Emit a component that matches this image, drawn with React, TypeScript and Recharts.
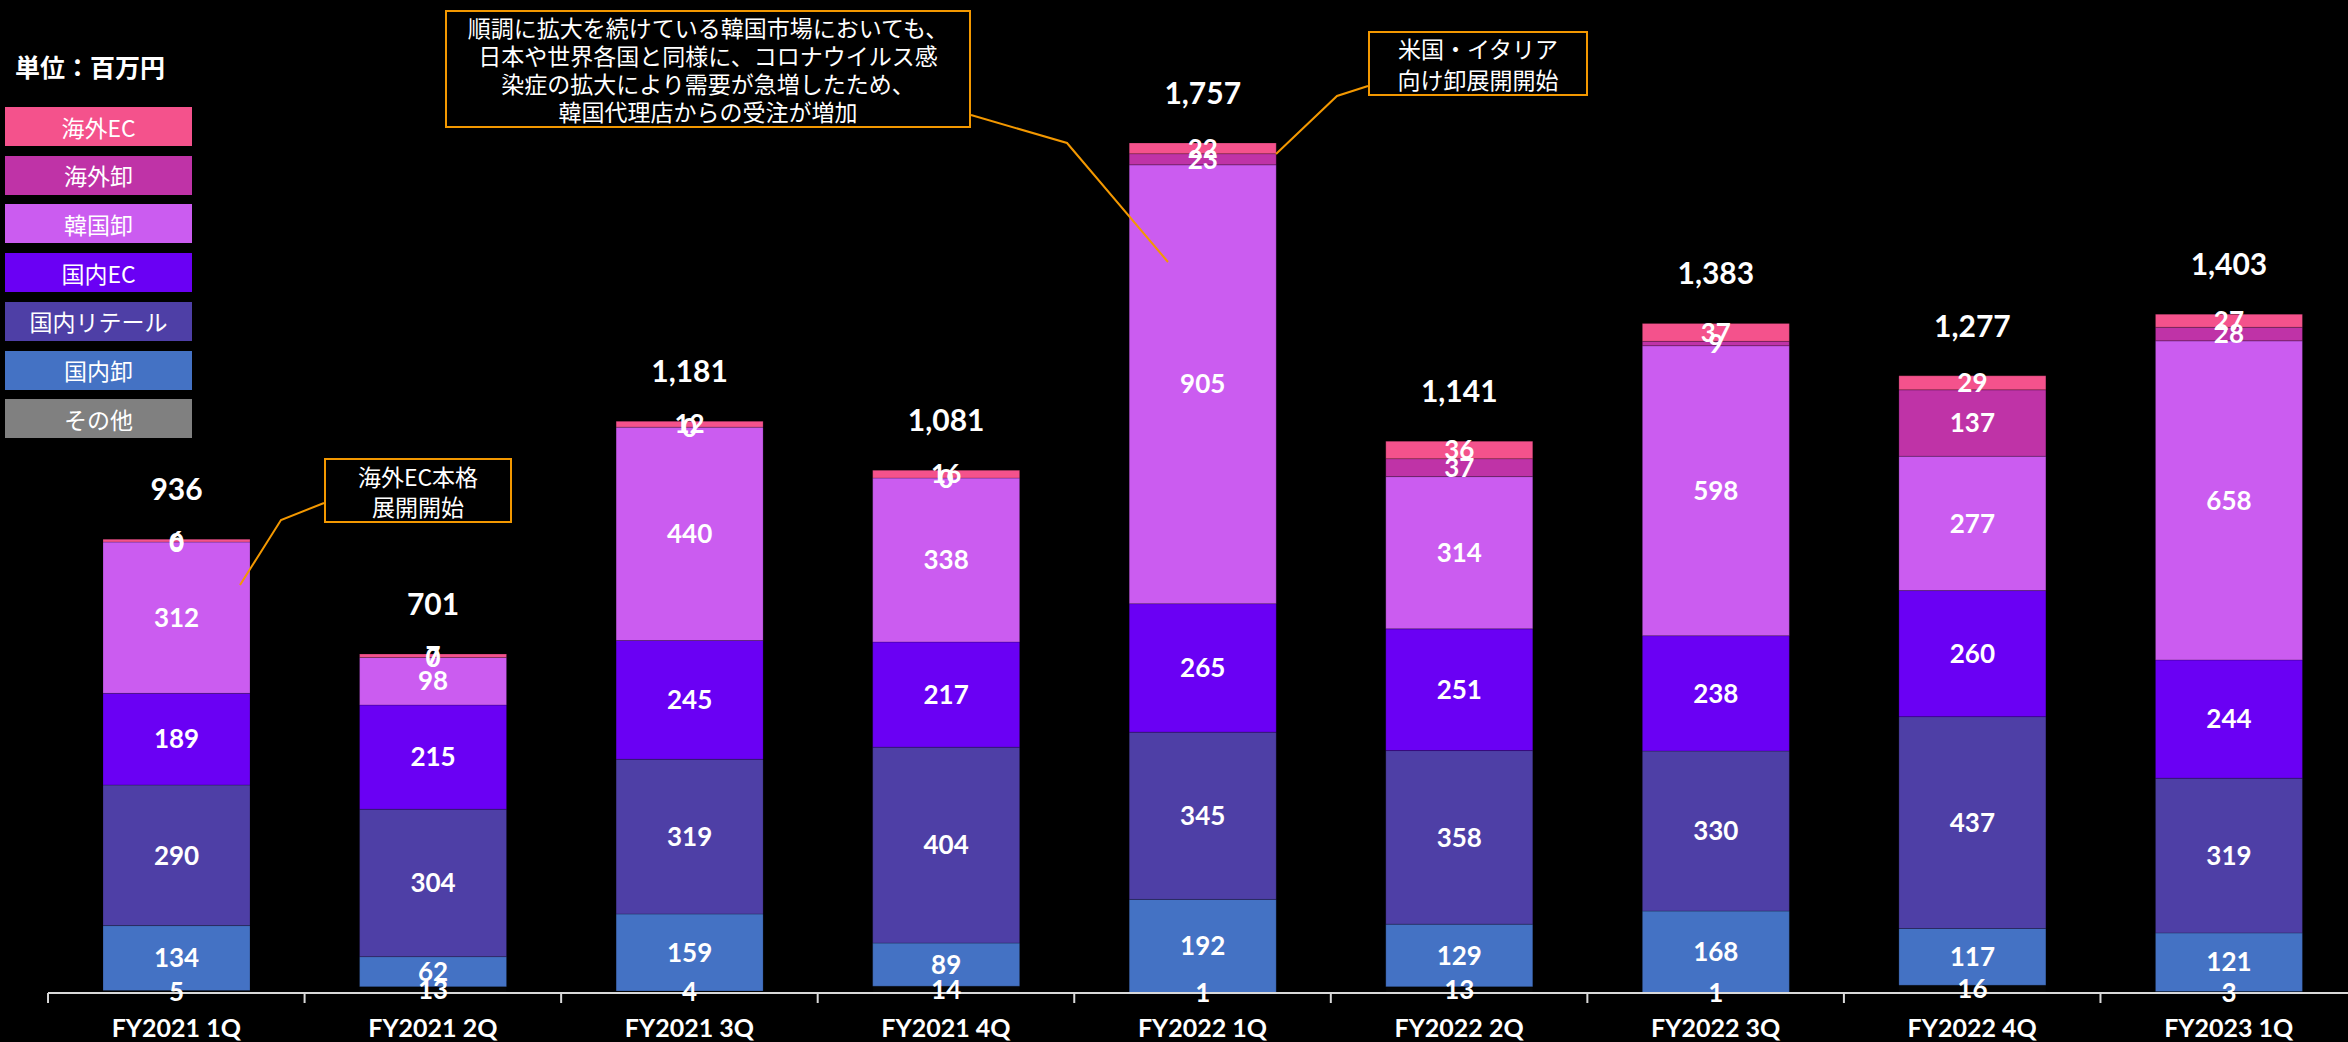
import { BarChart, Bar, XAxis, YAxis, LabelList } from 'recharts';

const categories = ['FY2021 1Q', 'FY2021 2Q', 'FY2021 3Q', 'FY2021 4Q', 'FY2022 1Q', 'FY2022 2Q', 'FY2022 3Q', 'FY2022 4Q', 'FY2023 1Q'];
const sonota = [5, 13, 4, 14, 1, 13, 1, 16, 3];
const kokunaiOroshi = [134, 62, 159, 89, 192, 129, 168, 117, 121];
const kokunaiRetail = [290, 304, 319, 404, 345, 358, 330, 437, 319];
const kokunaiEC = [189, 215, 245, 217, 265, 251, 238, 260, 244];
const kankokuOroshi = [312, 98, 440, 338, 905, 314, 598, 277, 658];
const kaigaiOroshi = [0, 0, 0, 0, 23, 37, 9, 137, 28];
const kaigaiEC = [6, 7, 12, 16, 22, 36, 37, 29, 27];
const totals = [936, 701, 1181, 1081, 1757, 1141, 1383, 1277, 1403];

// barFill: the その他 segment is not visible on the bars, only in the legend
const series = [
  { key: 'sonota', name: 'その他', color: '#808080', barFill: '#050505' },
  { key: 'kokunaiOroshi', name: '国内卸', color: '#4472C4', barFill: '#4472C4' },
  { key: 'kokunaiRetail', name: '国内リテール', color: '#4E3FA6', barFill: '#4E3FA6' },
  { key: 'kokunaiEC', name: '国内EC', color: '#6A00F4', barFill: '#6A00F4' },
  { key: 'kankokuOroshi', name: '韓国卸', color: '#CB5CF0', barFill: '#CB5CF0' },
  { key: 'kaigaiOroshi', name: '海外卸', color: '#BF33A7', barFill: '#BF33A7' },
  { key: 'kaigaiEC', name: '海外EC', color: '#F4528C', barFill: '#F4528C' },
];

const data = categories.map((name, i) => ({
  name,
  sonota: sonota[i],
  kokunaiOroshi: kokunaiOroshi[i],
  kokunaiRetail: kokunaiRetail[i],
  kokunaiEC: kokunaiEC[i],
  kankokuOroshi: kankokuOroshi[i],
  kaigaiOroshi: kaigaiOroshi[i],
  kaigaiEC: kaigaiEC[i],
}));

const NUM_FONT = 'Lato, "Noto Sans", sans-serif';
const JP_FONT = '"Noto Sans CJK JP", sans-serif';
const ORANGE = '#F39800';
const BAND = 256.5;

const AxisTick = (props: any) => {
  const { x, y, payload } = props;
  const axisY = y - 10;
  const left = x - BAND / 2;
  return (
    <g>
      <line x1={left} y1={axisY} x2={left} y2={axisY + 10} stroke="#d9d9d9" strokeWidth={2} />
      <text x={x} y={axisY + 34} textAnchor="middle" dominantBaseline="central" fill="#fff" fontFamily={NUM_FONT} fontWeight={700} fontSize={25}>
        {payload.value}
      </text>
    </g>
  );
};

// total on top of the stack, plus the 0 label of 海外卸 that recharts skips for empty segments
const TopLabel = (props: any) => {
  const { x, y, width, height, index } = props;
  const cx = x + width / 2;
  return (
    <g>
      {kaigaiOroshi[index] === 0 && (
        <text x={cx} y={y + height} textAnchor="middle" dominantBaseline="central" fill="#fff" fontFamily={NUM_FONT} fontWeight={700} fontSize={26}>
          0
        </text>
      )}
      <text x={cx} y={y - 51} textAnchor="middle" dominantBaseline="central" fill="#fff" fontFamily={NUM_FONT} fontWeight={700} fontSize={30}>
        {totals[index].toLocaleString('en-US')}
      </text>
    </g>
  );
};

export default function App() {
  return (
    <div style={{ position: 'absolute', left: 0, top: 0, width: 2348, height: 1042, overflow: 'hidden', background: '#000' }}>
      <BarChart width={2357} height={1042} data={data} margin={{ top: 0, right: 0, bottom: 0, left: 48 }} barSize={147}>
        <XAxis
          dataKey="name"
          height={49}
          axisLine={{ stroke: '#d9d9d9', strokeWidth: 2 }}
          tickLine={false}
          tickSize={10}
          tickMargin={0}
          interval={0}
          tick={<AxisTick />}
        />
        <YAxis hide domain={[0, 2048]} allowDataOverflow />
        {series.map((s, i) => (
          <Bar key={s.key} dataKey={s.key} stackId="a" fill={s.barFill} stroke="rgba(0,0,0,0.2)" strokeWidth={1} isAnimationActive={false}>
            <LabelList dataKey={s.key} position="center" fill="#fff" fontFamily={NUM_FONT} fontWeight={700} fontSize={26} />
            {i === series.length - 1 && <LabelList dataKey={s.key} content={<TopLabel />} />}
          </Bar>
        ))}
      </BarChart>

      <div style={{ position: 'absolute', left: 15, top: 48, color: '#fff', fontFamily: JP_FONT, fontWeight: 700, fontSize: 25 }}>
        単位：百万円
      </div>
      {[...series].reverse().map((s, i) => (
        <div
          key={s.key}
          style={{
            position: 'absolute', left: 5, top: 107 + i * 48.7, width: 187, height: 39,
            background: s.color, color: '#fff', fontFamily: JP_FONT, fontSize: 23,
            display: 'flex', alignItems: 'center', justifyContent: 'center',
          }}
        >
          {s.name}
        </div>
      ))}

      <svg width={2348} height={1042} style={{ position: 'absolute', left: 0, top: 0, pointerEvents: 'none' }}>
        <polyline points="971,115 1067,143 1168,262" fill="none" stroke={ORANGE} strokeWidth={2} />
        <polyline points="1368,86 1337,96 1276,154" fill="none" stroke={ORANGE} strokeWidth={2} />
        <polyline points="324,503 281,520 240,585" fill="none" stroke={ORANGE} strokeWidth={2} />
      </svg>

      <div style={{
        position: 'absolute', left: 445, top: 10, width: 522, height: 114, border: `2px solid ${ORANGE}`, background: '#000',
        color: '#fff', fontFamily: JP_FONT, fontSize: 23, lineHeight: '28px', textAlign: 'center',
        display: 'flex', flexDirection: 'column', justifyContent: 'center',
      }}>
        <div>順調に拡大を続けている韓国市場においても、</div>
        <div>日本や世界各国と同様に、コロナウイルス感</div>
        <div>染症の拡大により需要が急増したため、</div>
        <div>韓国代理店からの受注が増加</div>
      </div>

      <div style={{
        position: 'absolute', left: 1368, top: 31, width: 216, height: 61, border: `2px solid ${ORANGE}`, background: '#000',
        color: '#fff', fontFamily: JP_FONT, fontSize: 23, lineHeight: '31px', textAlign: 'center',
        display: 'flex', flexDirection: 'column', justifyContent: 'center',
      }}>
        <div>米国・イタリア</div>
        <div>向け卸展開開始</div>
      </div>

      <div style={{
        position: 'absolute', left: 324, top: 458, width: 184, height: 61, border: `2px solid ${ORANGE}`, background: '#000',
        color: '#fff', fontFamily: JP_FONT, fontSize: 23, lineHeight: '30px', textAlign: 'center',
        display: 'flex', flexDirection: 'column', justifyContent: 'center',
      }}>
        <div>海外EC本格</div>
        <div>展開開始</div>
      </div>
    </div>
  );
}
